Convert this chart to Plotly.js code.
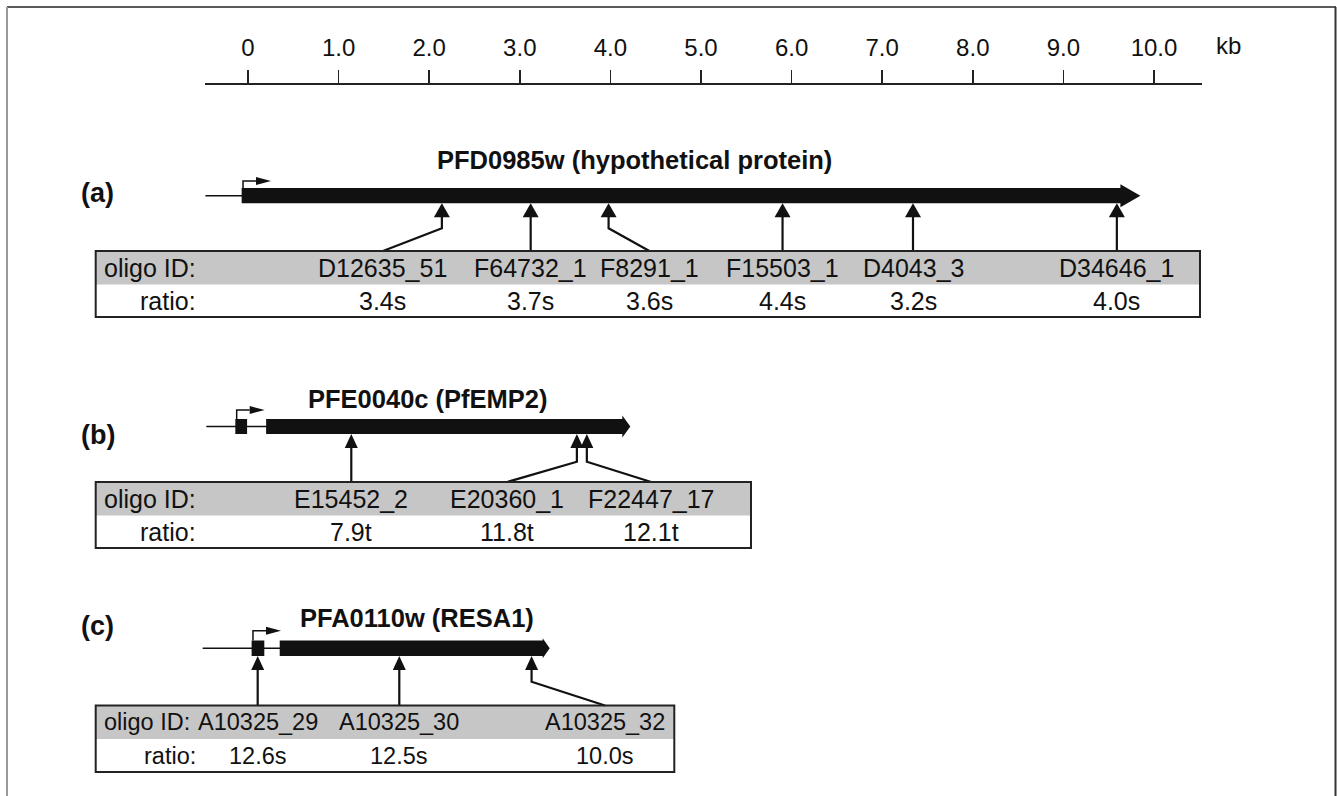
<!DOCTYPE html>
<html><head><meta charset="utf-8">
<script src="https://cdn.plot.ly/plotly-3.0.1.min.js"></script>
<style>html,body{margin:0;padding:0;background:#fff;}#chart{width:1337px;height:796px;}</style>
</head><body><div id="chart"></div>
<script>
// ---------- data (positions in kb) ----------
const scaleTicks = [0, 1, 2, 3, 4, 5, 6, 7, 8, 9, 10];
const scaleTickText = ['0', '1.0', '2.0', '3.0', '4.0', '5.0', '6.0', '7.0', '8.0', '9.0', '10.0'];

const panelLabels = ['(a)', '(b)', '(c)'];
const geneNames = ['PFD0985w (hypothetical protein)', 'PFE0040c (PfEMP2)', 'PFA0110w (RESA1)'];
const geneLineStart = [-0.47, -0.46, -0.50];
const exonsA = [[-0.07, 9.85]];
const exonsB = [[-0.14, -0.01], [0.20, 4.22]];
const exonsC = [[0.04, 0.18], [0.35, 3.33]];

const oligoA = ['D12635_51', 'F64732_1', 'F8291_1', 'F15503_1', 'D4043_3', 'D34646_1'];
const oligoPosA = [2.14, 3.12, 3.98, 5.90, 7.34, 9.59];
const oligoLabelPosA = [1.49, 3.12, 4.43, 5.90, 7.34, 9.59];
const ratioA = ['3.4s', '3.7s', '3.6s', '4.4s', '3.2s', '4.0s'];

const oligoB = ['E15452_2', 'E20360_1', 'F22447_17'];
const oligoPosB = [1.14, 3.63, 3.74];
const oligoLabelPosB = [1.14, 2.86, 4.45];
const ratioB = ['7.9t', '11.8t', '12.1t'];

const oligoC = ['A10325_29', 'A10325_30', 'A10325_32'];
const oligoPosC = [0.107, 1.67, 3.13];
const oligoLabelPosC = [0.107, 1.67, 3.94];
const ratioC = ['12.6s', '12.5s', '10.0s'];

// ---------- layout geometry ----------
const PXK = 90.6, X0 = 248;           // pixels per kb, pixel of 0 kb
const K = p => (p - X0) / PXK;         // pixel -> kb (layout helpers only)
const FONT = 'Liberation Sans, Arial, Helvetica, sans-serif';
const INK = '#111';

const genes = [
  {exons: exonsA, names: oligoA, pos: oligoPosA, lab: oligoLabelPosA, ratio: ratioA, txt: 25,
   barTop: 188, barBot: 203.3, promTop: 181, titleX: K(634), titleY: 160, labelY: 193,
   bendY: 228.3, tTop: 251, tMid: 284.5, tBot: 317, tRight: K(1200), head: 20, headHalf: 11.5, hw: 8},
  {exons: exonsB, names: oligoB, pos: oligoPosB, lab: oligoLabelPosB, ratio: ratioB, txt: 25,
   barTop: 419, barBot: 434, promTop: 410, titleX: K(428), titleY: 399, labelY: 435,
   bendY: 461.7, tTop: 482, tMid: 515.5, tBot: 548, tRight: K(751), head: 8, headHalf: 11, hw: 6.5},
  {exons: exonsC, names: oligoC, pos: oligoPosC, lab: oligoLabelPosC, ratio: ratioC, txt: 23.5,
   barTop: 640.5, barBot: 656, promTop: 630.7, titleX: K(417), titleY: 618, labelY: 626,
   bendY: 681.7, tTop: 705.5, tMid: 739, tBot: 772, tRight: K(674.3), head: 7, headHalf: 10, hw: 6.5}
];
const tLeft = K(95.7);

const traces = [];
const shapes = [];
const annotations = [];

function ann(x, y, text, size, opts) {
  annotations.push(Object.assign({x: x, y: y, xref: 'x', yref: 'y', text: text, showarrow: false,
    font: {family: FONT, size: size, color: INK}, xanchor: 'center', yanchor: 'middle'}, opts || {}));
}
function poly(xs, ys) {
  traces.push({type: 'scatter', mode: 'lines', x: xs, y: ys, fill: 'toself', fillcolor: INK,
    line: {width: 0, color: INK}, hoverinfo: 'skip', showlegend: false});
}
function line(xs, ys, w) {
  traces.push({type: 'scatter', mode: 'lines', x: xs, y: ys, line: {width: w, color: INK},
    hoverinfo: 'skip', showlegend: false});
}

genes.forEach((g, gi) => {
  const mid = (g.barTop + g.barBot) / 2;
  const last = g.exons[g.exons.length - 1];
  // table background + border
  shapes.push({type: 'rect', xref: 'x', yref: 'y', x0: tLeft, x1: g.tRight, y0: g.tTop, y1: g.tMid,
    fillcolor: '#c6c6c6', line: {width: 0}, layer: 'below'});
  shapes.push({type: 'rect', xref: 'x', yref: 'y', x0: tLeft, x1: g.tRight, y0: g.tTop, y1: g.tBot,
    fillcolor: 'rgba(0,0,0,0)', line: {width: 2, color: '#222'}, layer: 'above'});
  // backbone line
  line([geneLineStart[gi], last[1] - 0.05], [mid, mid], 1.5);
  // exons
  g.exons.forEach((e, ei) => {
    if (ei === g.exons.length - 1) {
      const hb = e[1] - g.head / PXK;
      poly([e[0], hb, hb, e[1], hb, hb, e[0], e[0]],
           [g.barTop, g.barTop, mid - g.headHalf, mid, mid + g.headHalf, g.barBot, g.barBot, g.barTop]);
    } else {
      poly([e[0], e[1], e[1], e[0], e[0]], [g.barTop, g.barTop, g.barBot, g.barBot, g.barTop]);
    }
  });
  // promoter bent arrow
  const px0 = g.exons[0][0] + 0.015;
  const pTip = px0 + 28 / PXK;
  const pHead = pTip - 15 / PXK;
  line([px0, px0, pHead], [g.barTop, g.promTop, g.promTop], 1.5);
  poly([pHead, pTip, pHead, pHead], [g.promTop - 4, g.promTop, g.promTop + 4, g.promTop - 4]);
  // oligo arrows
  g.pos.forEach((p, i) => {
    const hy = g.barBot + 14;
    line([g.lab[i], p, p], [g.tTop, g.bendY, hy - 1], 2.2);
    poly([p - g.hw / PXK, p, p + g.hw / PXK, p - g.hw / PXK], [hy, g.barBot, hy, hy]);
    ann(g.lab[i], (g.tTop + g.tMid) / 2, g.names[i], g.txt);
    ann(g.lab[i], (g.tMid + g.tBot) / 2, g.ratio[i], g.txt);
  });
  // row headers
  ann(tLeft + 6 / PXK, (g.tTop + g.tMid) / 2, 'oligo ID:', g.txt, {xanchor: 'left'});
  ann(K(198), (g.tMid + g.tBot) / 2, 'ratio:', g.txt, {xanchor: 'right'});
  // titles and panel labels
  ann(g.titleX, g.titleY, '<b>' + geneNames[gi] + '</b>', 25.5);
  ann(K(79), g.labelY, '<b>' + panelLabels[gi] + '</b>', 27, {xanchor: 'left'});
});

// ruler axis dummy trace
traces.push({type: 'scatter', mode: 'markers', x: [null], y: [null], xaxis: 'x2', yaxis: 'y',
  hoverinfo: 'skip', showlegend: false});
annotations.push({x: 1214 / 1337, y: 45, xref: 'paper', yref: 'y', text: 'kb', showarrow: false,
  xanchor: 'left', yanchor: 'middle', font: {family: FONT, size: 24, color: INK}});

// frame
shapes.push({type: 'line', xref: 'paper', yref: 'paper', x0: 7 / 1337, x1: 1336 / 1337, y0: 1 - 7 / 796, y1: 1 - 7 / 796, line: {color: '#5a5a5a', width: 2}});
shapes.push({type: 'line', xref: 'paper', yref: 'paper', x0: 7 / 1337, x1: 7 / 1337, y0: 1 - 7 / 796, y1: 0, line: {color: '#999', width: 2}});
shapes.push({type: 'line', xref: 'paper', yref: 'paper', x0: 1335.5 / 1337, x1: 1335.5 / 1337, y0: 1 - 7 / 796, y1: 0, line: {color: '#333', width: 2}});

const layout = {
  width: 1337, height: 796,
  margin: {l: 0, r: 0, t: 0, b: 0, pad: 0},
  paper_bgcolor: '#fff', plot_bgcolor: 'rgba(0,0,0,0)',
  showlegend: false,
  xaxis: {range: [K(0), K(1337)], visible: false, fixedrange: true},
  yaxis: {range: [796, 0], visible: false, fixedrange: true},
  xaxis2: {
    domain: [205 / 1337, 1202 / 1337], range: [K(205), K(1202)], anchor: 'free', position: 1 - 83 / 796,
    side: 'top', showline: true, linecolor: '#222', linewidth: 1.5,
    ticks: 'outside', ticklen: 13, tickwidth: 1.5, tickcolor: '#222',
    tickmode: 'array', tickvals: scaleTicks, ticktext: scaleTickText, ticklabelstandoff: 4,
    tickfont: {family: FONT, size: 24, color: INK}, showgrid: false, zeroline: false, fixedrange: true
  },
  shapes: shapes, annotations: annotations
};
Plotly.newPlot('chart', traces, layout, {staticPlot: true, displayModeBar: false});
</script></body></html>
